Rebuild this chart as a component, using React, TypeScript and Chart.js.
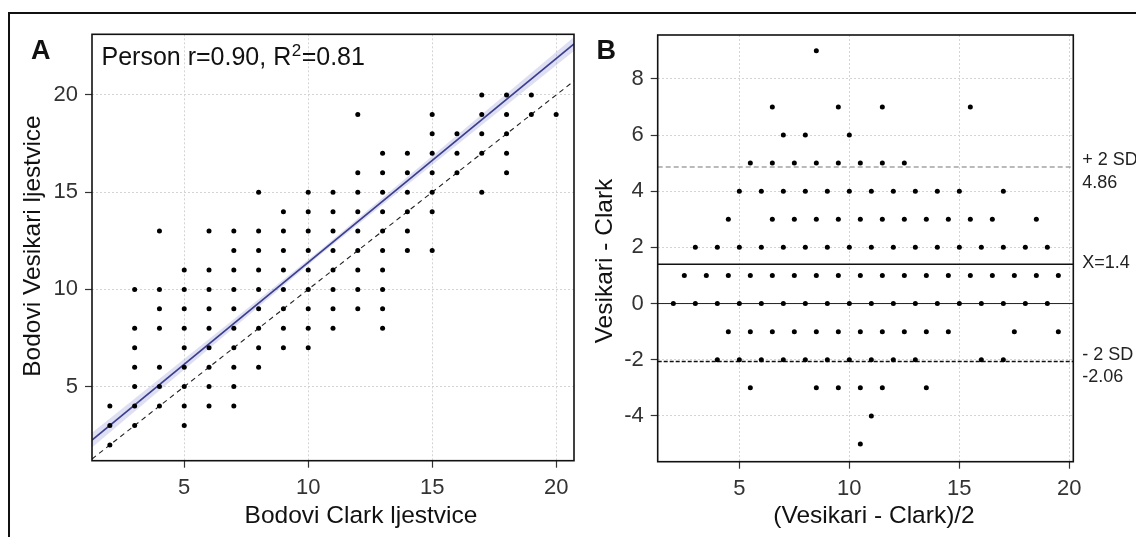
import React, { useEffect, useRef } from "react";
import { Chart, registerables } from "chart.js";

Chart.register(...registerables);

const FONT = '"Liberation Sans", Arial, Helvetica, sans-serif';

// ---------- Panel A: Clark score (x) vs Vesikari score (y) ----------
const clarkScores = [2, 3, 4, 5, 6, 7, 8, 9, 10, 11, 12, 13, 14, 15, 16, 17, 18, 19, 20];
const vesikariByClark = [
  [2, 3, 4],
  [3, 4, 5, 6, 7, 8, 10],
  [4, 5, 6, 8, 9, 10, 13],
  [3, 4, 5, 6, 7, 8, 9, 10, 11],
  [4, 5, 6, 7, 8, 9, 10, 11, 13],
  [4, 5, 6, 7, 8, 9, 10, 11, 12, 13],
  [6, 7, 8, 9, 10, 11, 12, 13, 15],
  [7, 8, 9, 10, 11, 12, 13, 14],
  [7, 8, 9, 10, 11, 12, 13, 14, 15],
  [8, 9, 10, 11, 12, 13, 14, 15],
  [9, 10, 11, 12, 13, 14, 15, 16, 19],
  [8, 9, 10, 11, 12, 13, 14, 15, 16, 17],
  [12, 13, 14, 15, 16, 17],
  [12, 14, 15, 16, 17, 18, 19],
  [16, 17, 18],
  [15, 17, 18, 19, 20],
  [16, 17, 18, 19, 20],
  [19, 20],
  [19],
];
const regressionIntercept = 0.91;
const regressionSlope = 1.048;
const confidenceX = [1.28, 10.5, 20.72];
const confidenceHalfWidth = [0.38, 0.12, 0.36];
const panelATicksX = [5, 10, 15, 20];
const panelATicksY = [5, 10, 15, 20];
const panelAXRange = [1.28, 20.72];
const panelAYRange = [1.19, 23.12];
const panelATitleX = "Bodovi Clark ljestvice";
const panelATitleY = "Bodovi Vesikari ljestvice";

// ---------- Panel B: Bland-Altman (mean on x, difference on y) ----------
const blandDiffLevels = [9, 7, 6, 5, 4, 3, 2, 1, 0, -1, -2, -3, -4, -5];
const blandMeansByDiff = [
  [8.5],
  [6.5, 9.5, 11.5, 15.5],
  [7, 8, 10],
  [5.5, 6.5, 7.5, 8.5, 9.5, 10.5, 11.5, 12.5],
  [5, 6, 7, 8, 9, 10, 11, 12, 13, 14, 15, 17],
  [4.5, 6.5, 7.5, 8.5, 9.5, 10.5, 11.5, 12.5, 13.5, 14.5, 15.5, 16.5, 18.5],
  [3, 4, 5, 6, 7, 8, 9, 10, 11, 12, 13, 14, 15, 16, 17, 18, 19],
  [2.5, 3.5, 4.5, 5.5, 6.5, 7.5, 8.5, 9.5, 10.5, 11.5, 12.5, 13.5, 14.5, 15.5, 16.5, 17.5, 18.5, 19.5],
  [2, 3, 4, 5, 6, 7, 8, 9, 10, 11, 12, 13, 14, 15, 16, 17, 18, 19],
  [4.5, 5.5, 6.5, 7.5, 8.5, 9.5, 10.5, 11.5, 12.5, 13.5, 14.5, 17.5, 19.5],
  [4, 5, 6, 7, 8, 9, 10, 11, 12, 13, 16, 17],
  [5.5, 8.5, 9.5, 10.5, 11.5, 13.5],
  [11],
  [10.5],
];
const meanDifference = 1.4;
const upperLimit = 4.86;
const lowerLimit = -2.06;
const panelBTicksX = [5, 10, 15, 20];
const panelBTicksY = [-4, -2, 0, 2, 4, 6, 8];
const panelBXRange = [1.29, 20.18];
const panelBYRange = [-5.63, 9.56];
const panelBTitleX = "(Vesikari - Clark)/2";
const panelBTitleY = "Vesikari - Clark";

const TICK_COLOR = "#333333";
const GRID_COLOR = "#d4d4d4";
const TITLE_FONT = `24.5px ${FONT}`;

function borderPlugin(id: string) {
  return {
    id,
    afterDatasetsDraw(chart: any) {
      const { ctx, chartArea } = chart;
      ctx.save();
      ctx.strokeStyle = "#111";
      ctx.lineWidth = 1.6;
      ctx.strokeRect(chartArea.left, chartArea.top, chartArea.right - chartArea.left, chartArea.bottom - chartArea.top);
      ctx.restore();
    },
  };
}

function drawAxisTitles(ctx: any, xTitle: string, xCx: number, xCy: number, yTitle: string, yCx: number, yCy: number) {
  ctx.save();
  ctx.fillStyle = "#111";
  ctx.font = TITLE_FONT;
  ctx.textAlign = "center";
  ctx.textBaseline = "middle";
  ctx.fillText(xTitle, xCx, xCy);
  ctx.translate(yCx, yCy);
  ctx.rotate(-Math.PI / 2);
  ctx.fillText(yTitle, 0, 0);
  ctx.restore();
}

function axisCommon(ticks: number[], range: number[], size: { w?: number; h?: number }) {
  return {
    type: "linear" as const,
    min: range[0],
    max: range[1],
    afterBuildTicks: (s: any) => {
      s.ticks = ticks.map((v) => ({ value: v }));
    },
    afterFit: (s: any) => {
      if (size.w !== undefined) s.width = size.w;
      if (size.h !== undefined) s.height = size.h;
    },
    grid: {
      color: GRID_COLOR,
      lineWidth: 1,
      tickColor: TICK_COLOR,
      tickLength: 7,
      tickWidth: 1.2,
      tickBorderDash: [],
    },
    border: { display: false, dash: [2, 2] },
    ticks: { color: TICK_COLOR, font: { size: 22, family: FONT }, padding: 7, autoSkip: false, maxRotation: 0 },
    title: { display: false },
  };
}

function buildConfigA(): any {
  const points: { x: number; y: number }[] = [];
  clarkScores.forEach((c, i) => vesikariByClark[i].forEach((v) => points.push({ x: c, y: v })));
  const regLine = panelAXRange.map((x) => ({ x, y: regressionIntercept + regressionSlope * x }));
  const ciUpper = confidenceX.map((x, i) => ({ x, y: regressionIntercept + regressionSlope * x + confidenceHalfWidth[i] }));
  const ciLower = confidenceX.map((x, i) => ({ x, y: regressionIntercept + regressionSlope * x - confidenceHalfWidth[i] }));
  const identity = panelAXRange.map((x) => ({ x, y: x }));

  const textPlugin = {
    id: "textA",
    afterDraw(chart: any) {
      const { ctx } = chart;
      drawAxisTitles(ctx, panelATitleX, 361, 516, panelATitleY, 33, 246);
      ctx.save();
      ctx.fillStyle = "#111";
      ctx.textBaseline = "alphabetic";
      ctx.textAlign = "left";
      ctx.font = `bold 27px ${FONT}`;
      ctx.fillText("A", 31, 59);
      ctx.font = `25px ${FONT}`;
      let x = 101.5;
      const y = 65;
      const part1 = "Person r=0.90, R";
      ctx.fillText(part1, x, y);
      x += ctx.measureText(part1).width;
      ctx.font = `17px ${FONT}`;
      ctx.fillText("2", x + 0.5, y - 9.5);
      x += ctx.measureText("2").width + 1;
      ctx.font = `25px ${FONT}`;
      ctx.fillText("=0.81", x, y);
      ctx.restore();
    },
  };

  return {
    type: "scatter",
    data: {
      datasets: [
        { type: "scatter", data: points, pointRadius: 2.5, pointBackgroundColor: "#000", pointBorderWidth: 0, order: 0 },
        {
          type: "line",
          data: regLine,
          borderColor: "#3b3f8e",
          borderWidth: 1.6,
          pointRadius: 0,
          fill: false,
          order: 1,
        },
        {
          type: "line",
          data: ciUpper,
          borderColor: "rgba(0,0,0,0)",
          borderWidth: 0,
          pointRadius: 0,
          backgroundColor: "rgba(140,140,215,0.28)",
          fill: "+1",
          order: 3,
        },
        {
          type: "line",
          data: ciLower,
          borderColor: "rgba(0,0,0,0)",
          borderWidth: 0,
          pointRadius: 0,
          fill: false,
          order: 4,
        },
        {
          type: "line",
          data: identity,
          borderColor: "#222",
          borderWidth: 1.1,
          borderDash: [5, 4],
          pointRadius: 0,
          fill: false,
          order: 2,
        },
      ],
    },
    options: {
      animation: false,
      responsive: false,
      events: [],
      layout: { padding: { left: 0, right: 6, top: 34.3, bottom: 0 } },
      plugins: { legend: { display: false }, tooltip: { enabled: false }, title: { display: false } },
      scales: {
        x: { ...axisCommon(panelATicksX, panelAXRange, { h: 537 - 460.7 }), position: "bottom" },
        y: { ...axisCommon(panelATicksY, panelAYRange, { w: 92 }), position: "left" },
      },
    },
    plugins: [borderPlugin("borderA"), textPlugin],
  };
}

function buildConfigB(): any {
  const points: { x: number; y: number }[] = [];
  blandDiffLevels.forEach((d, i) => blandMeansByDiff[i].forEach((m) => points.push({ x: m, y: d })));
  const hLine = (v: number) => panelBXRange.map((x) => ({ x, y: v }));

  const textPlugin = {
    id: "textB",
    afterDraw(chart: any) {
      const { ctx, chartArea, scales } = chart;
      drawAxisTitles(ctx, panelBTitleX, 304, 516, panelBTitleY, 35, 261);
      ctx.save();
      ctx.fillStyle = "#111";
      ctx.textBaseline = "alphabetic";
      ctx.textAlign = "left";
      ctx.font = `bold 27px ${FONT}`;
      ctx.fillText("B", 26.5, 59);
      ctx.font = `18px ${FONT}`;
      ctx.fillStyle = "#222";
      const lx = chartArea.right + 9;
      const yU = scales.y.getPixelForValue(upperLimit);
      const yM = scales.y.getPixelForValue(meanDifference);
      const yL = scales.y.getPixelForValue(lowerLimit);
      ctx.fillText("+ 2 SD", lx, yU - 2.5);
      ctx.fillText(upperLimit.toFixed(2), lx, yU + 20.5);
      ctx.fillText("X=" + meanDifference.toFixed(1), lx, yM + 4);
      ctx.fillText("- 2 SD", lx, yL - 1.5);
      ctx.fillText(lowerLimit.toFixed(2), lx, yL + 21);
      ctx.restore();
    },
  };

  return {
    type: "scatter",
    data: {
      datasets: [
        { type: "scatter", data: points, pointRadius: 2.5, pointBackgroundColor: "#000", pointBorderWidth: 0, order: 0 },
        { type: "line", data: hLine(0), borderColor: "#222", borderWidth: 1, pointRadius: 0, fill: false, order: 4 },
        { type: "line", data: hLine(meanDifference), borderColor: "#111", borderWidth: 1.4, pointRadius: 0, fill: false, order: 1 },
        {
          type: "line",
          data: hLine(upperLimit),
          borderColor: "#777",
          borderWidth: 1.1,
          borderDash: [5, 3],
          pointRadius: 0,
          fill: false,
          order: 2,
        },
        {
          type: "line",
          data: hLine(lowerLimit),
          borderColor: "#111",
          borderWidth: 1.5,
          borderDash: [4, 2],
          pointRadius: 0,
          fill: false,
          order: 3,
        },
      ],
    },
    options: {
      animation: false,
      responsive: false,
      events: [],
      layout: { padding: { left: 0, right: 566 - 503.3, top: 35, bottom: 0 } },
      plugins: { legend: { display: false }, tooltip: { enabled: false }, title: { display: false } },
      scales: {
        x: { ...axisCommon(panelBTicksX, panelBXRange, { h: 537 - 461.7 }), position: "bottom" },
        y: { ...axisCommon(panelBTicksY, panelBYRange, { w: 87.7 }), position: "left" },
      },
    },
    plugins: [borderPlugin("borderB"), textPlugin],
  };
}

export default function App() {
  const refA = useRef<HTMLCanvasElement>(null);
  const refB = useRef<HTMLCanvasElement>(null);

  useEffect(() => {
    Chart.defaults.font.family = FONT;
    const a = new Chart(refA.current!, buildConfigA());
    const b = new Chart(refB.current!, buildConfigB());
    return () => {
      a.destroy();
      b.destroy();
    };
  }, []);

  return (
    <div style={{ position: "absolute", left: 0, top: 0, width: 1136, height: 537, overflow: "hidden", background: "#fff" }}>
      <div
        style={{
          position: "absolute",
          left: 8,
          top: 12,
          width: 1200,
          height: 600,
          borderLeft: "2px solid #111",
          borderTop: "2px solid #111",
        }}
      />
      <canvas ref={refA} width={580} height={537} style={{ position: "absolute", left: 0, top: 0 }} />
      <canvas ref={refB} width={566} height={537} style={{ position: "absolute", left: 570, top: 0 }} />
    </div>
  );
}
